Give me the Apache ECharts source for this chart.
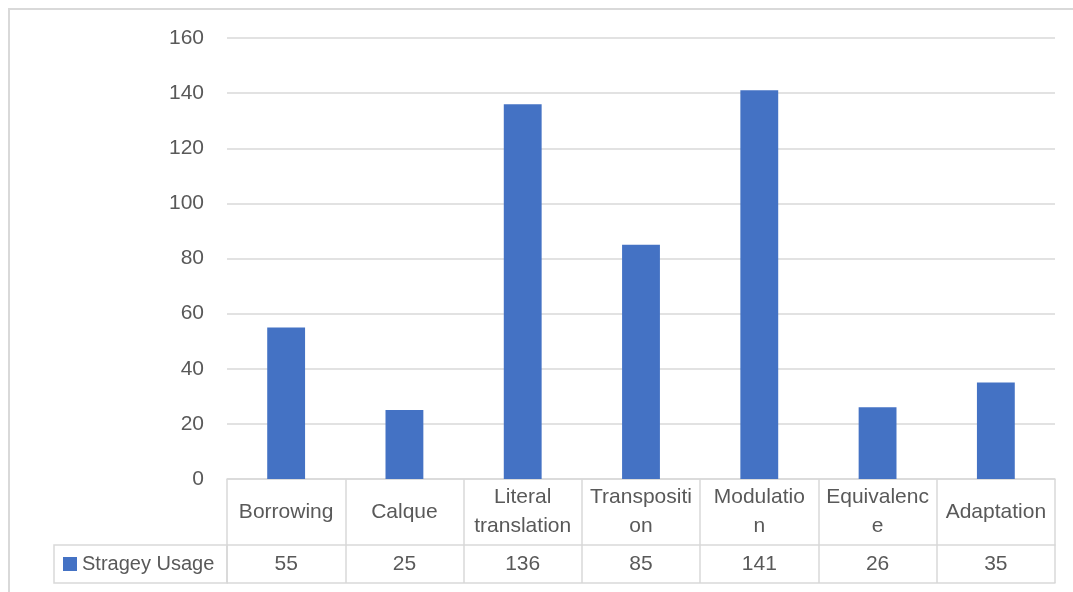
<!DOCTYPE html>
<html>
<head>
<meta charset="utf-8">
<script src="https://cdn.jsdelivr.net/npm/echarts@6/dist/echarts.min.js"></script>
<style>
  html, body { margin: 0; padding: 0; background: #fff; }
  #chart { width: 1073px; height: 592px; }
</style>
</head>
<body>
<div id="chart"></div>
<script>
// categories and values
const categories = ["Borrowing", "Calque", "Literal translation", "Transposition", "Modulation", "Equivalence", "Adaptation"];
// labels as they wrap in the table cells
const tickLabels = ["Borrowing", "Calque", "Literal\ntranslation", "Transpositi\non", "Modulatio\nn", "Equivalenc\ne", "Adaptation"];
const usage = [55, 25, 136, 85, 141, 26, 35];
const seriesName = "Stragey Usage";

const FONT = "Liberation Sans";
const TXT = "#595959";
const LINE = "#d9d9d9";

const chart = echarts.init(document.getElementById("chart"));

const option = {
  animation: false,
  textStyle: { fontFamily: FONT },
  grid: { left: 227, right: 18, top: 38, bottom: 113, containLabel: false },
  legend: {
    left: 63,
    top: 554,
    padding: 0,
    icon: "rect",
    itemWidth: 14,
    itemHeight: 14,
    selectedMode: false,
    data: [seriesName],
    textStyle: { color: TXT, fontSize: 20, fontFamily: FONT }
  },
  xAxis: [
    {
      type: "category",
      data: categories,
      position: "bottom",
      axisLine: { show: true, lineStyle: { color: LINE, width: 1.5 } },
      axisTick: { show: true, length: 66, lineStyle: { color: LINE, width: 1.5 } },
      axisLabel: {
        color: TXT, fontSize: 21, fontFamily: FONT,
        margin: 33, verticalAlign: "middle", lineHeight: 29,
        interval: 0,
        formatter: (v, i) => tickLabels[i]
      }
    },
    {
      type: "category",
      data: categories,
      position: "bottom",
      offset: 66,
      axisLine: { show: true, lineStyle: { color: LINE, width: 1.5 } },
      axisTick: { show: true, length: 38, lineStyle: { color: LINE, width: 1.5 } },
      axisLabel: {
        color: TXT, fontSize: 21, fontFamily: FONT,
        margin: 19, verticalAlign: "middle",
        interval: 0,
        formatter: (v, i) => String(usage[i])
      }
    },
    {
      type: "category",
      data: categories,
      position: "bottom",
      offset: 104,
      axisLine: { show: true, lineStyle: { color: LINE, width: 1.5 } },
      axisTick: { show: false },
      axisLabel: { show: false }
    }
  ],
  yAxis: {
    type: "value",
    min: 0,
    max: 160,
    interval: 20,
    axisLine: { show: false },
    axisTick: { show: false },
    axisLabel: { color: TXT, fontSize: 21, fontFamily: FONT, margin: 23 },
    splitLine: { lineStyle: { color: LINE, width: 1.5 } }
  },
  series: [
    {
      name: seriesName,
      type: "bar",
      data: usage,
      barWidth: "32%",
      itemStyle: { color: "#4472C4" }
    }
  ],
  graphic: [
    {
      type: "rect",
      silent: true,
      shape: { x: 54, y: 545, width: 173, height: 38 },
      style: { fill: null, stroke: LINE, lineWidth: 1.5 }
    },
    {
      type: "rect",
      silent: true,
      shape: { x: 9, y: 9, width: 1100, height: 620 },
      style: { fill: null, stroke: LINE, lineWidth: 2 }
    }
  ]
};

chart.setOption(option);
</script>
</body>
</html>
